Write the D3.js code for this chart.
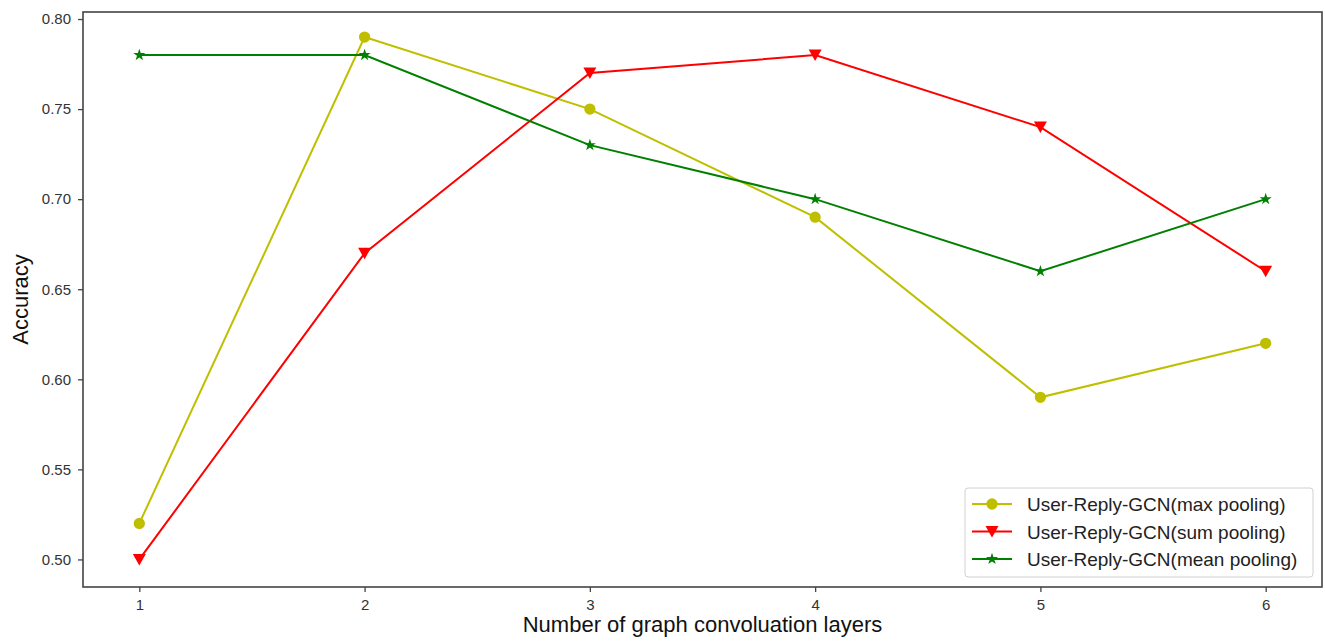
<!DOCTYPE html>
<html>
<head>
<meta charset="utf-8">
<script src="https://cdn.jsdelivr.net/npm/d3@7"></script>
<style>
  body { margin: 0; background: #fff; }
  svg text { font-family: "Liberation Sans", Arial, sans-serif; }
</style>
</head>
<body>
<div id="chart"></div>
<script>
// layer counts on the x axis
const layers = [1, 2, 3, 4, 5, 6];
const yTicks = [0.50, 0.55, 0.60, 0.65, 0.70, 0.75, 0.80];

// accuracy per pooling type
const maxPooling = [0.52, 0.79, 0.75, 0.69, 0.59, 0.62];
const sumPooling = [0.50, 0.67, 0.77, 0.78, 0.74, 0.66];
const meanPooling = [0.78, 0.78, 0.73, 0.70, 0.66, 0.70];

const seriesNames = [
  "User-Reply-GCN(max pooling)",
  "User-Reply-GCN(sum pooling)",
  "User-Reply-GCN(mean pooling)"
];

const W = 1325, H = 642;
const margin = {top: 12, right: 3, bottom: 55, left: 83};
const width = W - margin.left - margin.right;
const height = H - margin.top - margin.bottom;

const svg = d3.select("#chart").append("svg")
  .attr("width", W)
  .attr("height", H);

const g = svg.append("g")
  .attr("transform", "translate(" + margin.left + "," + margin.top + ")");

const x = d3.scaleLinear().domain([0.75, 6.25]).range([0, width]);
const y = d3.scaleLinear().domain([0.4847, 0.8039]).range([height, 0]);

const series = [
  {name: seriesNames[0], values: maxPooling, color: "#bfbf00", marker: "circle"},
  {name: seriesNames[1], values: sumPooling, color: "#ff0000", marker: "triangleDown"},
  {name: seriesNames[2], values: meanPooling, color: "#008000", marker: "star"}
];

function markerPath(type) {
  if (type === "circle") return d3.symbol(d3.symbolCircle, 100)();
  if (type === "star") return d3.symbol(d3.symbolStar, 45)();
  // downward triangle
  return "M-6.5,-5.5L6.5,-5.5L0,6Z";
}

// axes
const xAxis = g.append("g")
  .attr("transform", "translate(0," + height + ")")
  .call(d3.axisBottom(x).tickValues(layers).tickFormat(d3.format("d")).tickSize(5).tickPadding(7));
const yAxis = g.append("g")
  .call(d3.axisLeft(y).tickValues(yTicks).tickFormat(d3.format(".2f")).tickSize(5).tickPadding(7));

[xAxis, yAxis].forEach(a => {
  a.select(".domain").remove();
  a.selectAll(".tick line").attr("stroke", "#444").attr("stroke-width", 1.3);
  a.selectAll(".tick text").attr("fill", "#333").style("font-size", "15px");
});

// frame
g.append("rect")
  .attr("width", width).attr("height", height)
  .attr("fill", "none").attr("stroke", "#444").attr("stroke-width", 1.6);

const line = d3.line()
  .x((d, i) => x(layers[i]))
  .y(d => y(d));

series.forEach(s => {
  g.append("path")
    .datum(s.values)
    .attr("fill", "none")
    .attr("stroke", s.color)
    .attr("stroke-width", 2)
    .attr("d", line);
  g.selectAll(null)
    .data(s.values)
    .enter().append("path")
    .attr("transform", (d, i) => "translate(" + x(layers[i]) + "," + y(d) + ")")
    .attr("d", markerPath(s.marker))
    .attr("fill", s.color);
});

// axis labels
svg.append("text")
  .attr("x", margin.left + width / 2)
  .attr("y", 632)
  .attr("text-anchor", "middle")
  .style("font-size", "22px")
  .attr("fill", "#111")
  .text("Number of graph convoluation layers");

svg.append("text")
  .attr("transform", "translate(28," + (margin.top + height / 2) + ")rotate(-90)")
  .attr("text-anchor", "middle")
  .style("font-size", "22px")
  .attr("fill", "#111")
  .text("Accuracy");

// legend
const legend = svg.append("g").attr("transform", "translate(965,488)");
legend.append("rect")
  .attr("width", 348).attr("height", 89)
  .attr("rx", 3)
  .attr("fill", "#fff").attr("stroke", "#d0d0d0").attr("stroke-width", 1);

series.forEach((s, i) => {
  const cy = 16 + i * 27.5;
  legend.append("line")
    .attr("x1", 7).attr("x2", 47).attr("y1", cy).attr("y2", cy)
    .attr("stroke", s.color).attr("stroke-width", 2);
  legend.append("path")
    .attr("transform", "translate(27," + cy + ")")
    .attr("d", markerPath(s.marker))
    .attr("fill", s.color);
  legend.append("text")
    .attr("x", 62).attr("y", cy + 7)
    .style("font-size", "19px")
    .attr("fill", "#222")
    .text(s.name);
});
</script>
</body>
</html>
